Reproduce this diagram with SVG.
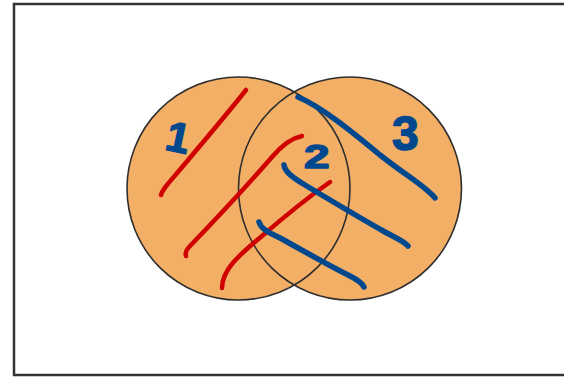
<svg xmlns="http://www.w3.org/2000/svg" width="564" height="377" viewBox="0 0 564 377">
<style>
.frame{fill:#fff;stroke:#333;stroke-width:2.5}
.set{fill:#F3AF66}
.edge{fill:none;stroke:#2e2e2e;stroke-width:1.6}
.red{fill:none;stroke:#D00000;stroke-width:4.5;stroke-linecap:round;stroke-linejoin:round}
.blue{fill:none;stroke:#00488E;stroke-width:5.5;stroke-linecap:round;stroke-linejoin:round}
.num{fill:#00488E;stroke:#00488E;stroke-width:1.5;stroke-linejoin:round;font-family:"Liberation Sans",Arial,sans-serif;font-weight:bold}
</style>
<rect class="frame" x="14" y="4" width="570" height="371"/>
<g id="set-left"><circle class="set" cx="238.5" cy="188.5" r="111.5"/></g>
<g id="set-right"><circle class="set" cx="350" cy="188.5" r="111.5"/></g>
<g id="outlines">
<circle class="edge" cx="238.5" cy="188.5" r="111.5"/>
<circle class="edge" cx="350" cy="188.5" r="111.5"/>
</g>
<g id="shading">
<path class="red" d="M246,90 C232,108 205,140 178,172 C166,186 162,190 161,195"/>
<path class="red" d="M302,136 C292,138 283,144 272,157 C245,188 215,220 190,246 C186,250 185,253 186,256"/>
<path class="red" d="M330,182 C310,196 285,216 262,236 C238,256 222,270 222,288"/>
<path class="blue" d="M298,97 C320,106 350,130 380,155 C408,177 425,186 435,198"/>
<path class="blue" d="M284,165 C285,172 292,177 305,185 C330,200 360,218 385,232 C398,239 405,242 408,246"/>
<path class="blue" d="M259,222 C261,229 268,232 282,239 C305,252 330,266 350,276 C358,280 362,283 364,287"/>
</g>
<g id="label-1"><text class="num" x="167" y="152" font-size="42" transform="rotate(12 178 135)">1</text></g>
<g id="label-2"><text class="num" x="304" y="168" font-size="34" transform="translate(304 168) scale(1.35 1) translate(-304 -168)">2</text></g>
<g id="label-3"><text class="num" x="392" y="150" font-size="48">3</text></g>
</svg>
